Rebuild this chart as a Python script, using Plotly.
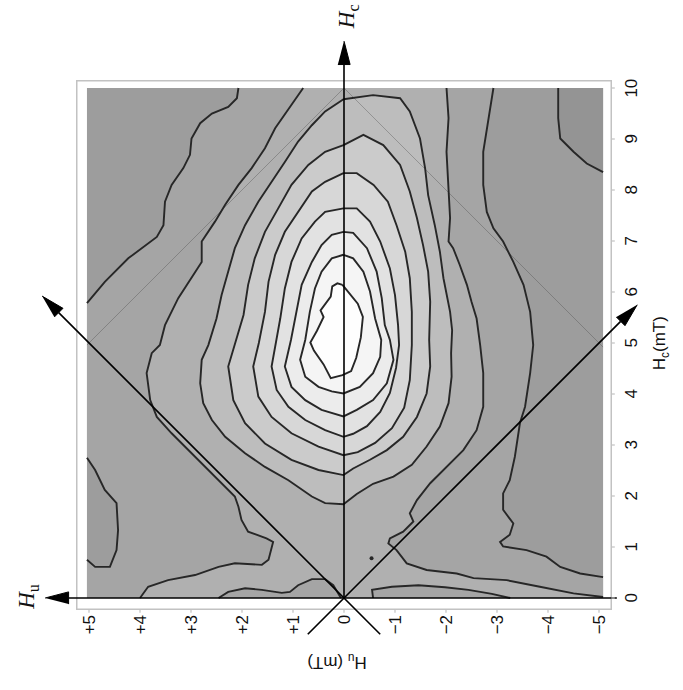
import plotly.graph_objects as go

# ---------------- axis ticks ----------------
hc_ticks = [0, 1, 2, 3, 4, 5, 6, 7, 8, 9, 10]
hc_tick_text = ["0", "1", "2", "3", "4", "5", "6", "7", "8", "9", "10"]
hu_ticks = [5, 4, 3, 2, 1, 0, -1, -2, -3, -4, -5]
hu_tick_text = ["+5", "+4", "+3", "+2", "+1", "0", "\u22121", "\u22122", "\u22123", "\u22124", "\u22125"]

# extent of the FORC distribution (mT)
HU_MAX, HU_MIN = 5.04, -5.08
HC_MIN, HC_MAX = 0.0, 10.0

# ---------------- open contours (Hu, Hc in mT) ----------------
L1_hu = [2.07, 2.10, 2.27, 2.59, 2.82, 2.99, 3.02, 3.15, 3.38, 3.51, 3.54, 3.67, 4.23, 4.69, 5.04]
L1_hc = [10.0, 9.80, 9.63, 9.50, 9.31, 9.01, 8.69, 8.43, 8.10, 7.77, 7.31, 7.08, 6.66, 6.20, 5.78]

LB_hu = [5.04, 4.88, 4.69, 4.46, 4.43, 4.46, 4.59, 4.88, 5.04]
LB_hc = [2.75, 2.51, 2.12, 1.86, 1.33, 0.94, 0.61, 0.61, 0.75]

L2_hu = [0.80, 1.03, 1.35, 1.55, 1.81, 2.07, 2.33, 2.53, 2.79, 2.79, 2.99, 3.25, 3.51, 3.61,
         3.77, 3.87, 3.80, 3.67, 3.38, 2.92, 2.46, 2.14, 2.07, 2.01, 1.88, 1.52, 1.39, 1.48,
         1.61, 2.14, 2.46, 2.92, 3.45, 3.84, 4.00]
L2_hc = [10.0, 9.67, 9.21, 8.82, 8.43, 8.10, 7.71, 7.38, 6.99, 6.59, 6.27, 5.88, 5.35, 4.96,
         4.80, 4.41, 3.88, 3.55, 3.23, 2.77, 2.31, 1.99, 1.79, 1.53, 1.30, 1.17, 1.10, 0.75,
         0.65, 0.68, 0.61, 0.45, 0.35, 0.22, 0.0]

R1_hu = [-2.01, -2.05, -2.01, -2.05, -2.08, -2.05, -2.14, -2.27, -2.41, -2.50, -2.60, -2.67,
         -2.73, -2.73, -2.60, -2.34, -2.01, -1.69, -1.43, -1.29, -1.36, -1.16, -0.90, -0.87,
         -1.03, -1.23, -1.62, -2.21, -2.54, -3.19, -3.84, -4.50, -5.08]
R1_hc = [10.0, 9.41, 8.75, 8.10, 7.45, 6.99, 6.86, 6.53, 6.14, 5.81, 5.48, 4.96,
         4.41, 3.75, 3.29, 2.90, 2.57, 2.25, 1.92, 1.66, 1.50, 1.30, 1.17, 1.07,
         0.94, 0.68, 0.55, 0.48, 0.39, 0.35, 0.22, 0.09, 0.02]

R2_hu = [-2.93, -2.83, -2.73, -2.73, -2.80, -2.93, -3.12, -3.32, -3.52, -3.65, -3.71, -3.65,
         -3.55, -3.45, -3.35, -3.25, -3.12, -3.12, -3.32, -3.25, -3.06, -3.12, -3.58, -3.97,
         -4.24, -4.63, -5.08]
R2_hc = [10.0, 9.41, 8.75, 8.10, 7.57, 7.25, 6.99, 6.59, 6.14, 5.61, 4.96, 4.41,
         3.75, 3.43, 2.77, 2.31, 2.05, 1.73, 1.46, 1.24, 1.10, 1.01, 0.94, 0.81,
         0.61, 0.48, 0.41]

R3_hu = [-4.20, -4.20, -4.24, -4.50, -4.76, -5.08]
R3_hc = [10.0, 9.41, 9.01, 8.75, 8.52, 8.35]

BL_hu = [2.46, 2.27, 1.94, 1.61, 1.22, 1.06, 0.90, 0.63, 0.37, 0.21, 0.06]
BL_hc = [0.0, 0.12, 0.19, 0.16, 0.10, 0.12, 0.25, 0.37, 0.37, 0.25, 0.0]

BR_hu = [-0.57, -0.55, -0.94, -1.46, -1.98, -2.44, -2.90, -3.26]
BR_hc = [0.0, 0.16, 0.22, 0.25, 0.21, 0.16, 0.08, 0.0]

SPOT_hu = [-0.54]
SPOT_hc = [0.78]

# ---------------- closed contours around the peak ----------------
L3_hu = [0.01, 0.37, 0.63, 0.90, 1.16, 1.42, 1.68, 1.94, 2.14, 2.27, 2.40, 2.50, 2.66, 2.79,
         2.82, 2.76, 2.59, 2.33, 1.94, 1.55, 1.09, 0.63, 0.37, 0.01, -0.25, -0.57, -0.97,
         -1.33, -1.62, -1.88, -2.05, -2.11, -2.10, -2.12, -2.08, -1.95, -1.88, -1.78, -1.65,
         -1.59, -1.49, -1.29, -1.10, -0.57]
L3_hc = [9.78, 9.54, 9.27, 8.95, 8.55, 8.16, 7.77, 7.31, 6.86, 6.40, 5.94, 5.48, 4.96, 4.67,
         4.21, 3.82, 3.49, 3.16, 2.84, 2.57, 2.31, 1.99, 1.86, 1.84, 2.04, 2.24, 2.38,
         2.61, 2.97, 3.36, 3.82, 4.34, 4.80, 5.25, 5.61, 6.27, 6.79, 7.31, 7.90,
         8.43, 9.01, 9.54, 9.80, 9.86]

C4_hu = [0.01, 0.37, 0.70, 1.03, 1.29, 1.55, 1.75, 1.88, 1.97, 2.14, 2.27, 2.17, 1.94, 1.55,
         1.03, 0.50, 0.01, -0.18, -0.51, -0.84, -1.16, -1.43, -1.62, -1.69, -1.67, -1.69,
         -1.65, -1.55, -1.43, -1.29, -1.10, -0.77, -0.38]
C4_hc = [8.88, 8.75, 8.49, 8.10, 7.64, 7.18, 6.66, 6.14, 5.55, 4.96, 4.54, 3.88, 3.43, 3.03,
         2.71, 2.51, 2.41, 2.54, 2.71, 2.90, 3.16, 3.55, 4.01, 4.54, 5.06, 5.81,
         6.40, 6.92, 7.45, 7.97, 8.49, 8.88, 9.08]

C5_hu = [0.01, 0.37, 0.63, 0.90, 1.16, 1.35, 1.48, 1.55, 1.67, 1.78, 1.68, 1.42, 1.03, 0.50,
         0.01, -0.27, -0.61, -0.94, -1.18, -1.29, -1.33, -1.33, -1.29, -1.20, -1.03, -0.86,
         -0.58, -0.25]
C5_hc = [8.33, 8.16, 7.97, 7.57, 7.18, 6.73, 6.20, 5.61, 5.00, 4.54, 3.95, 3.55, 3.23, 2.97,
         2.80, 2.86, 3.04, 3.33, 3.73, 4.27, 4.96, 5.61, 6.27, 6.79, 7.31, 7.77,
         8.10, 8.33]

C6_hu = [0.01, 0.37, 0.57, 0.83, 1.03, 1.16, 1.25, 1.33, 1.42, 1.32, 1.09, 0.76, 0.37, 0.01,
         -0.18, -0.45, -0.71, -0.90, -1.02, -1.08, -1.06, -1.00, -0.90, -0.71, -0.51, -0.25]
C6_hc = [7.64, 7.57, 7.38, 7.05, 6.59, 6.07, 5.48, 5.02, 4.54, 4.08, 3.75, 3.49, 3.29, 3.16,
         3.22, 3.37, 3.65, 4.02, 4.51, 4.96, 5.35, 5.94, 6.46, 6.99, 7.38, 7.64]

C7_hu = [0.01, 0.24, 0.44, 0.63, 0.83, 0.93, 1.04, 1.16, 1.03, 0.76, 0.44, 0.01, -0.25, -0.57,
         -0.84, -0.97, -0.90, -0.80, -0.74, -0.64, -0.45, -0.18]
C7_hc = [7.18, 7.12, 6.92, 6.59, 6.14, 5.61, 5.06, 4.54, 4.14, 3.88, 3.69, 3.56, 3.69, 3.88,
         4.21, 4.67, 5.06, 5.35, 5.88, 6.40, 6.86, 7.16]

C8_hu = [0.01, 0.24, 0.44, 0.57, 0.67, 0.76, 0.86, 0.76, 0.50, 0.24, 0.01, -0.31, -0.57, -0.71,
         -0.73, -0.61, -0.51, -0.38, -0.18]
C8_hc = [6.73, 6.66, 6.40, 6.07, 5.61, 5.06, 4.67, 4.34, 4.14, 4.05, 4.01, 4.14, 4.41, 4.73,
         5.06, 5.48, 6.01, 6.40, 6.66]

C9_hu = [0.03, -0.27, -0.37, -0.33, -0.24, -0.14, 0.03, 0.26, 0.40, 0.59, 0.66, 0.53, 0.40,
         0.46, 0.26, 0.23, 0.13]
C9_hc = [6.14, 5.77, 5.51, 5.11, 4.71, 4.45, 4.37, 4.31, 4.58, 4.85, 5.01, 5.24, 5.51,
         5.64, 5.91, 6.11, 6.17]

# grey level of each band, from the lowest contour upwards
GREY = {"corner": 148, "l0": 157, "l1": 165, "l2": 176, "l3": 189,
        "c4": 203, "c5": 215, "c6": 226, "c7": 236, "c8": 245, "c9": 254}
LINE_COL = "#272727"


def grey(v):
    return f"rgb({v},{v},{v})"


fig = go.Figure()


def add_fill(hu, hc, level):
    fig.add_trace(go.Scatter(x=hu, y=hc, mode="lines", fill="toself",
                             fillcolor=grey(GREY[level]), line=dict(width=0),
                             hoverinfo="skip", showlegend=False))


def add_line(hu, hc, closed=False, width=1.9):
    xs, ys = list(hu), list(hc)
    if closed:
        xs.append(xs[0])
        ys.append(ys[0])
    fig.add_trace(go.Scatter(x=xs, y=ys, mode="lines",
                             line=dict(color=LINE_COL, width=width, shape="linear"),
                             hoverinfo="skip", showlegend=False))


# background of the distribution
add_fill([HU_MAX, HU_MIN, HU_MIN, HU_MAX], [HC_MIN, HC_MIN, HC_MAX, HC_MAX], "l0")
# darker upper-right corner
add_fill(R3_hu + [HU_MIN], R3_hc + [HC_MAX], "corner")
# lowest band: inside L1 / R2, left-edge bump excluded
add_fill(L1_hu + LB_hu + [HU_MAX, HU_MIN] + R2_hu[::-1],
         L1_hc + LB_hc + [HC_MIN, HC_MIN] + R2_hc[::-1], "l1")
# second band: between L2 and R1
add_fill(L2_hu + [HU_MIN] + R1_hu[::-1], L2_hc + [HC_MIN] + R1_hc[::-1], "l2")
# small pockets along the Hu axis
add_fill(BL_hu, BL_hc, "l1")
add_fill(BR_hu, BR_hc, "l1")
# nested closed contours
for hu, hc, lev in [(L3_hu, L3_hc, "l3"), (C4_hu, C4_hc, "c4"), (C5_hu, C5_hc, "c5"),
                    (C6_hu, C6_hc, "c6"), (C7_hu, C7_hc, "c7"), (C8_hu, C8_hc, "c8"),
                    (C9_hu, C9_hc, "c9")]:
    add_fill(hu, hc, lev)

# faint outline of the measured region (Hc = 10 - |Hu|)
fig.add_trace(go.Scatter(x=[HU_MAX, 0, HU_MIN], y=[HC_MAX - HU_MAX, HC_MAX, HC_MAX + HU_MIN],
                         mode="lines", line=dict(color="rgba(70,70,70,0.35)", width=1),
                         hoverinfo="skip", showlegend=False))

# contour lines
for hu, hc in [(L1_hu, L1_hc), (LB_hu, LB_hc), (L2_hu, L2_hc), (R1_hu, R1_hc),
               (R2_hu, R2_hc), (R3_hu, R3_hc), (BL_hu, BL_hc), (BR_hu, BR_hc)]:
    add_line(hu, hc)
for hu, hc in [(L3_hu, L3_hc), (C4_hu, C4_hc), (C5_hu, C5_hc), (C6_hu, C6_hc),
               (C7_hu, C7_hc), (C8_hu, C8_hc), (C9_hu, C9_hc)]:
    add_line(hu, hc, closed=True)
fig.add_trace(go.Scatter(x=SPOT_hu, y=SPOT_hc, mode="markers",
                         marker=dict(color=LINE_COL, size=4), hoverinfo="skip",
                         showlegend=False))

# ---------------- axes drawn through the origin ----------------
AX_COL = "#000000"
HEAD_LEN, HEAD_HALF = 0.46, 0.12


def arrow(tail, tip):
    (x0, y0), (x1, y1) = tail, tip
    dx, dy = x1 - x0, y1 - y0
    n = (dx * dx + dy * dy) ** 0.5
    ux, uy = dx / n, dy / n
    bx, by = x1 - ux * HEAD_LEN, y1 - uy * HEAD_LEN
    fig.add_trace(go.Scatter(x=[x0, bx], y=[y0, by], mode="lines",
                             line=dict(color=AX_COL, width=1.6),
                             hoverinfo="skip", showlegend=False))
    fig.add_trace(go.Scatter(x=[x1, bx - uy * HEAD_HALF, bx + uy * HEAD_HALF],
                             y=[y1, by + ux * HEAD_HALF, by - ux * HEAD_HALF],
                             mode="lines", fill="toself", fillcolor=AX_COL,
                             line=dict(color=AX_COL, width=1),
                             hoverinfo="skip", showlegend=False))


arrow((0.0, 0.0), (0.0, 10.92))        # Hc axis
arrow((-5.35, 0.0), (5.86, 0.0))       # Hu axis
arrow((-0.71, -0.71), (5.92, 5.92))    # diagonal towards +Hu
arrow((0.71, -0.71), (-5.75, 5.75))    # diagonal towards -Hu

# ---------------- frame ----------------
FR_L, FR_R, FR_B, FR_T = 5.24, -5.24, -0.22, 10.14
FRAME_COL = "#c2c2c2"
fig.add_shape(type="rect", xref="x", yref="y", x0=FR_L, x1=FR_R, y0=FR_B, y1=FR_T,
              line=dict(color=FRAME_COL, width=1.5), layer="below")
for v in hc_ticks:
    fig.add_shape(type="line", xref="x", yref="y", x0=FR_R, x1=FR_R - 0.07, y0=v, y1=v,
                  line=dict(color=FRAME_COL, width=1.2))
for v in hu_ticks:
    fig.add_shape(type="line", xref="x", yref="y", x0=v, x1=v, y0=FR_B, y1=FR_B - 0.07,
                  line=dict(color=FRAME_COL, width=1.2))

# ---------------- text ----------------
TICK_FONT = dict(family="Liberation Sans, Arial, sans-serif", size=17, color="#111111")
ann = []
for v, t in zip(hc_ticks, hc_tick_text):
    ann.append(dict(x=-5.62, y=v, xref="x", yref="y", text=t, showarrow=False,
                    textangle=-90, font=TICK_FONT, xanchor="center", yanchor="middle"))
for v, t in zip(hu_ticks, hu_tick_text):
    ann.append(dict(x=v, y=-0.31, xref="x", yref="y", text=t, showarrow=False,
                    textangle=-90, font=TICK_FONT, xanchor="center", yanchor="top"))
ann.append(dict(x=-6.22, y=5.0, xref="x", yref="y", text="H<sub>c</sub>(mT)",
                showarrow=False, textangle=-90, font=TICK_FONT))
ann.append(dict(x=0.14, y=-1.24, xref="x", yref="y", text="H<sub>u</sub> (mT)",
                showarrow=False, textangle=180, font=TICK_FONT))
SERIF = dict(family="Liberation Serif, Times New Roman, serif", size=23, color="#111111")
ann.append(dict(x=-0.08, y=11.39, xref="x", yref="y", text="<i>H</i><sub>c</sub>",
                showarrow=False, textangle=-90, font=SERIF))
ann.append(dict(x=6.2, y=0.02, xref="x", yref="y", text="<i>H</i><sub>u</sub>",
                showarrow=False, textangle=-90, font=SERIF))

W, H = 683, 690
PX = 51.0          # pixels per mT on both axes
X0_PX, Y0_PX = 344, 598   # pixel position of the origin

fig.update_layout(
    width=W, height=H, margin=dict(l=0, r=0, t=0, b=0),
    paper_bgcolor="white", plot_bgcolor="white",
    xaxis=dict(range=[X0_PX / PX, (X0_PX - W) / PX], visible=False, fixedrange=True),
    yaxis=dict(range=[(Y0_PX - H) / PX, Y0_PX / PX], visible=False, fixedrange=True),
    annotations=ann, showlegend=False,
)

fig.write_html("out.html")
